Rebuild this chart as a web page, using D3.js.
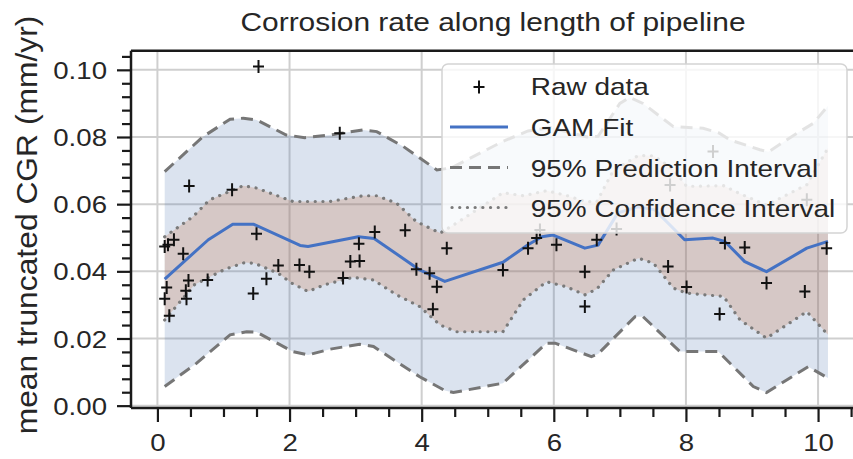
<!DOCTYPE html>
<html>
<head>
<meta charset="utf-8">
<script src="https://cdn.jsdelivr.net/npm/d3@7"></script>
<style>
  html, body { margin: 0; padding: 0; background: #fff; }
  svg { display: block; font-family: "Liberation Sans", Arial, Helvetica, sans-serif; }
</style>
</head>
<body>
<svg id="chart" width="853" height="459"></svg>
<script>
// ---- Raw corrosion growth-rate measurements (position, rate) ----
const rawX = [0.11,0.16,0.25,0.39,0.14,0.11,0.18,0.47,0.43,0.44,0.48,0.76,1.13,1.50,1.45,1.53,1.65,1.83,2.15,2.30,
              2.76,2.81,2.92,3.06,3.05,3.29,3.75,3.92,4.12,4.23,4.17,4.38,5.23,5.61,5.74,5.79,6.04,6.47,6.47,6.65,
              6.95,7.73,7.76,8.01,8.41,8.51,8.59,8.89,9.22,9.80,9.83,10.13];
const rawY = [0.0474,0.0479,0.0494,0.0452,0.0352,0.0318,0.0268,0.0373,0.0342,0.0318,0.0654,0.0374,0.0643,0.0512,0.0334,0.1010,0.0378,0.0417,0.0419,0.0399,
              0.0811,0.0380,0.0429,0.0431,0.0482,0.0517,0.0522,0.0406,0.0394,0.0354,0.0287,0.0469,0.0404,0.0469,0.0499,0.0523,0.0479,0.0399,0.0295,0.0494,
              0.0526,0.0414,0.0657,0.0353,0.0757,0.0273,0.0484,0.0471,0.0365,0.0340,0.0613,0.0469];

// ---- GAM fit ----
const fitX = [0.11,0.77,1.14,1.46,2.16,2.28,3.04,3.28,3.97,4.35,5.23,5.61,5.82,5.99,6.47,6.67,6.97,7.27,7.53,7.98,8.41,8.59,8.89,9.22,9.83,10.15];
const fitY = [0.0377,0.0494,0.0540,0.0540,0.0477,0.0474,0.0503,0.0498,0.0404,0.0370,0.0427,0.0479,0.0503,0.0508,0.0469,0.0478,0.0574,0.0592,0.0583,0.0494,0.0499,0.0489,0.0429,0.0399,0.0469,0.0489];

// ---- 95% prediction interval ----
const piUpX = [0.11,0.69,1.10,1.30,1.50,1.95,2.23,2.61,3.11,3.32,3.72,4.23,4.45,5.23,5.61,5.95,6.50,6.67,7.00,7.15,7.35,7.81,8.26,8.50,8.67,9.12,9.25,9.68,9.93,10.15];
const piUpY = [0.0697,0.0801,0.0853,0.0856,0.0851,0.0806,0.0798,0.0806,0.0821,0.0816,0.0772,0.0702,0.0708,0.0787,0.0818,0.0828,0.0800,0.0802,0.0900,0.0918,0.0900,0.0831,0.0826,0.0812,0.0791,0.0762,0.0756,0.0811,0.0841,0.0893];
const piLoX = [0.11,0.59,1.10,1.35,1.50,2.05,2.28,2.61,3.06,3.27,3.97,4.35,4.48,5.23,5.89,6.02,6.57,6.67,7.23,7.35,7.91,8.49,9.02,9.22,9.85,10.15];
const piLoY = [0.0057,0.0126,0.0211,0.0220,0.0219,0.0161,0.0151,0.0168,0.0183,0.0176,0.0086,0.0045,0.0039,0.0067,0.0186,0.0186,0.0146,0.0154,0.0265,0.0265,0.0161,0.0161,0.0057,0.0039,0.0116,0.0082];

// ---- 95% confidence interval ----
const ciUpX = [0.11,0.54,0.79,1.30,1.50,2.05,2.61,3.11,3.32,3.62,3.92,4.28,4.53,5.23,5.54,5.89,6.19,6.47,6.65,6.90,7.28,7.51,7.81,8.01,8.57,8.82,9.22,9.83,10.15];
const ciUpY = [0.0503,0.0563,0.0613,0.0655,0.0648,0.0608,0.0608,0.0625,0.0625,0.0603,0.0548,0.0514,0.0544,0.0634,0.0625,0.0640,0.0626,0.0608,0.0607,0.0700,0.0745,0.0744,0.0704,0.0653,0.0655,0.0631,0.0597,0.0658,0.0767];
const ciLoX = [0.11,0.56,1.02,1.32,1.47,1.83,2.03,2.28,2.53,2.96,3.27,3.62,3.97,4.28,4.53,5.23,5.54,5.89,6.19,6.47,6.65,6.90,7.28,7.51,7.81,8.01,8.57,8.82,9.22,9.83,10.15];
const ciLoY = [0.0255,0.0360,0.0406,0.0426,0.0424,0.0394,0.0365,0.0340,0.0360,0.0382,0.0374,0.0330,0.0295,0.0240,0.0220,0.0220,0.0315,0.0369,0.0354,0.0330,0.0347,0.0404,0.0439,0.0424,0.0350,0.0335,0.0325,0.0255,0.0201,0.0280,0.0211];

// ---- Axis ticks and text ----
const xTicks = [0, 2, 4, 6, 8, 10];
const yTicks = [0, 0.02, 0.04, 0.06, 0.08, 0.10];
const titleText = "Corrosion rate along length of pipeline";
const yLabelText = "mean truncated CGR (mm/yr)";
const legendLabels = ["Raw data", "GAM Fit", "95% Prediction Interval", "95% Confidence Interval"];

// ---- Layout ----
const svg = d3.select("#chart");
const plot = { left: 131, top: 50.7, right: 861, bottom: 408 };
const ink = "#262626";
const SX = 1.15;   // horizontal text widening

const x = d3.scaleLinear().domain([-0.4, 10.65]).range([plot.left, plot.right]);
const y = d3.scaleLinear().domain([-0.0007, 0.1057]).range([plot.bottom, plot.top]);

const pts = (xs, ys) => xs.map((v, i) => [v, ys[i]]);
const line = d3.line().x(d => x(d[0])).y(d => y(d[1]));

svg.append("defs").append("clipPath").attr("id", "plotClip")
  .append("rect").attr("x", plot.left).attr("y", plot.top)
  .attr("width", plot.right - plot.left).attr("height", plot.bottom - plot.top);

const body = svg.append("g").attr("clip-path", "url(#plotClip)");

// Grid
body.append("g").selectAll("line").data(xTicks).join("line")
  .attr("x1", d => x(d)).attr("x2", d => x(d))
  .attr("y1", plot.top).attr("y2", plot.bottom)
  .attr("stroke", "#cfcfcf").attr("stroke-width", 2);
body.append("g").selectAll("line").data(yTicks).join("line")
  .attr("x1", plot.left).attr("x2", plot.right)
  .attr("y1", d => y(d)).attr("y2", d => y(d))
  .attr("stroke", "#cfcfcf").attr("stroke-width", 2);

// Bands
const band = (upX, upY, loX, loY) =>
  line([...pts(upX, upY), ...pts(loX, loY).reverse()]) + "Z";

body.append("path").attr("d", band(piUpX, piUpY, piLoX, piLoY))
  .attr("fill", "#4c72b0").attr("fill-opacity", 0.2);
body.append("path").attr("d", band(ciUpX, ciUpY, ciLoX, ciLoY))
  .attr("fill", "#c8784a").attr("fill-opacity", 0.25);

// Interval lines
const piStyle = s => s.attr("fill", "none").attr("stroke", "#767676").attr("stroke-width", 3)
  .attr("stroke-dasharray", "12,7");
const ciStyle = s => s.attr("fill", "none").attr("stroke", "#7a7a7a").attr("stroke-width", 3.2)
  .attr("stroke-dasharray", "0.1,7.6").attr("stroke-linecap", "round");

body.append("path").attr("d", line(pts(piUpX, piUpY))).call(piStyle);
body.append("path").attr("d", line(pts(piLoX, piLoY))).call(piStyle);
body.append("path").attr("d", line(pts(ciUpX, ciUpY))).call(ciStyle);
body.append("path").attr("d", line(pts(ciLoX, ciLoY))).call(ciStyle);

// GAM fit
body.append("path").attr("d", line(pts(fitX, fitY)))
  .attr("fill", "none").attr("stroke", "#4472c4").attr("stroke-width", 3)
  .attr("stroke-linejoin", "round");

// Raw data crosses
const plusPath = "M-5.5,0H5.5M0,-6.5V6.5";
body.append("g").selectAll("path").data(pts(rawX, rawY)).join("path")
  .attr("transform", d => `translate(${x(d[0])},${y(d[1])})`)
  .attr("d", plusPath).attr("stroke", "#111").attr("stroke-width", 2).attr("fill", "none");

// ---- Axes ----
const styleAxis = g => {
  g.select(".domain").remove();
  g.selectAll(".tick line").attr("stroke", "#1a1a1a").attr("stroke-width", 2.2);
};
const yMinor = d3.range(1, 27).filter(i => i % 5 !== 0).map(i => i * 0.004);
const xMinor = d3.range(1, 22).filter(i => i % 4 !== 0).map(i => i * 0.5);

svg.append("g").attr("transform", `translate(${plot.left},0)`)
  .call(d3.axisLeft(y).tickValues(yMinor).tickSize(9).tickFormat(""))
  .call(styleAxis);
const yAxisG = svg.append("g").attr("transform", `translate(${plot.left},0)`)
  .call(d3.axisLeft(y).tickValues(yTicks).tickSize(14).tickFormat(d3.format(".2f")))
  .call(styleAxis);
yAxisG.selectAll(".tick text")
  .attr("x", null).attr("dy", "0.36em")
  .attr("transform", `translate(-24,0) scale(${SX},1)`)
  .attr("font-size", 24).attr("fill", ink).attr("font-family", null);

svg.append("g").attr("transform", `translate(0,${plot.bottom})`)
  .call(d3.axisBottom(x).tickValues(xMinor).tickSize(9).tickFormat(""))
  .call(styleAxis);
const xAxisG = svg.append("g").attr("transform", `translate(0,${plot.bottom})`)
  .call(d3.axisBottom(x).tickValues(xTicks).tickSize(14).tickFormat(d3.format("d")))
  .call(styleAxis);
xAxisG.selectAll(".tick text")
  .attr("y", null).attr("dy", null)
  .attr("transform", `translate(0,43) scale(${SX},1)`)
  .attr("font-size", 24).attr("fill", ink).attr("font-family", null);

// Spines
const spine = svg.append("g").attr("stroke", "#1a1a1a").attr("stroke-width", 2.5).attr("fill", "none");
spine.append("line").attr("x1", plot.left).attr("x2", plot.left).attr("y1", plot.top).attr("y2", plot.bottom);
spine.append("line").attr("x1", plot.left).attr("x2", plot.right).attr("y1", plot.bottom).attr("y2", plot.bottom);
spine.append("line").attr("x1", plot.left).attr("x2", plot.right).attr("y1", plot.top).attr("y2", plot.top);

// ---- Title and y label ----
svg.append("text")
  .attr("transform", `translate(${(plot.left + plot.right) / 2 - 3},31) scale(${SX},1)`)
  .attr("text-anchor", "middle").attr("font-size", 26).attr("fill", ink)
  .text(titleText);
svg.append("text")
  .attr("transform", "translate(37,225) rotate(-90) scale(1.06,1)")
  .attr("text-anchor", "middle").attr("font-size", 30).attr("fill", ink)
  .text(yLabelText);

// ---- Legend ----
const lg = svg.append("g");
lg.append("rect").attr("x", 442).attr("y", 64).attr("width", 405).attr("height", 169)
  .attr("rx", 6).attr("fill", "#fff").attr("fill-opacity", 0.8)
  .attr("stroke", "#d4d4d4").attr("stroke-width", 1.5);
const rowBase = [95, 136, 176.5, 216.5];
const hx0 = 450, hx1 = 508;
lg.append("path").attr("transform", `translate(${(hx0 + hx1) / 2},${rowBase[0] - 8})`)
  .attr("d", plusPath).attr("stroke", "#111").attr("stroke-width", 2);
lg.append("line").attr("x1", hx0).attr("x2", hx1).attr("y1", rowBase[1] - 9).attr("y2", rowBase[1] - 9)
  .attr("stroke", "#4472c4").attr("stroke-width", 3);
lg.append("line").attr("x1", hx0).attr("x2", hx1).attr("y1", rowBase[2] - 9).attr("y2", rowBase[2] - 9).call(piStyle);
lg.append("line").attr("x1", hx0 + 2).attr("x2", hx1).attr("y1", rowBase[3] - 9).attr("y2", rowBase[3] - 9).call(ciStyle);
lg.selectAll("text.lbl").data(legendLabels).join("text").attr("class", "lbl")
  .attr("transform", (d, i) => `translate(530.7,${rowBase[i]}) scale(1.165,1)`)
  .attr("font-size", 24).attr("fill", ink)
  .text(d => d);
</script>
</body>
</html>
